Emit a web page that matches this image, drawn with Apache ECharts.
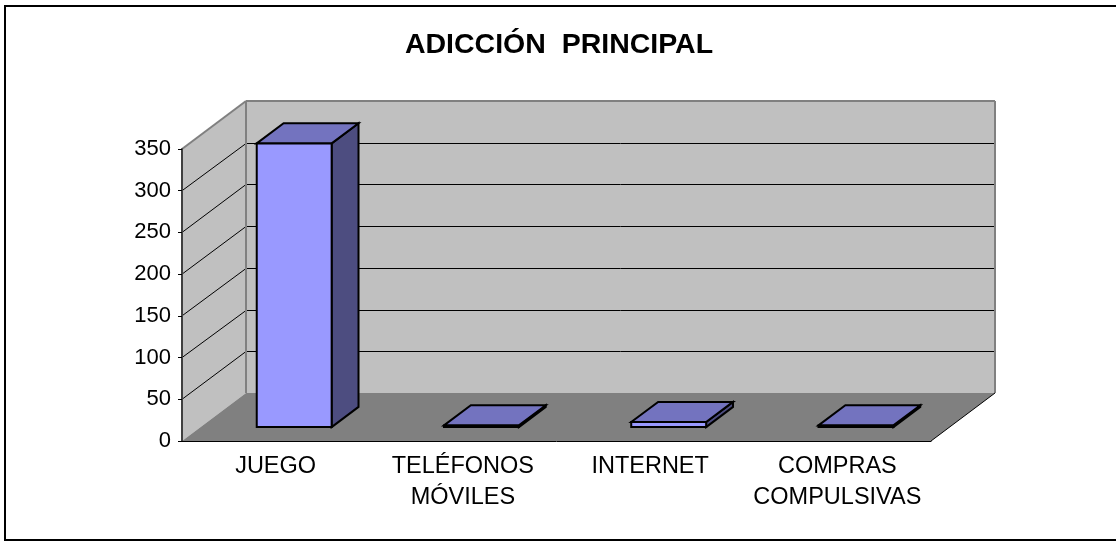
<!DOCTYPE html>
<html>
<head>
<meta charset="utf-8">
<style>
  html, body { margin: 0; padding: 0; background: #fff; overflow: hidden; }
  #chart { width: 1116px; height: 541px; }
</style>
<script src="https://cdn.jsdelivr.net/npm/echarts@6/dist/echarts.min.js"></script>
</head>
<body>
<div id="chart"></div>
<script>
const categories = ['JUEGO', 'TELÉFONOS\nMÓVILES', 'INTERNET', 'COMPRAS\nCOMPULSIVAS'];
const values = [340, 2, 6, 2];
const yTicks = [0, 50, 100, 150, 200, 250, 300, 350];

// fake 3D: how far the back of the floor is shifted from the front axis
const DEPTH_X = 64;
const DEPTH_Y = -48;
const BAR_START = 0.29;  // bar front, as a share of the depth
const BAR_DEPTH = 0.42;
const BAR_WIDTH = 0.4;   // share of a category

const myChart = echarts.init(document.getElementById('chart'));

const poly = (points, fill, stroke, lineWidth) => ({
  type: 'polygon',
  shape: { points },
  style: { fill, stroke: stroke || 'none', lineWidth: lineWidth || 0, lineJoin: 'miter' }
});
const line = (a, b, stroke, lineWidth) => ({
  type: 'line',
  shape: { x1: a[0], y1: a[1], x2: b[0], y2: b[1] },
  style: { stroke, lineWidth }
});
const shift = (p, k) => [p[0] + DEPTH_X * k, p[1] + DEPTH_Y * k];

// walls and floor, drawn once behind everything
const renderWalls = (params, api) => {
  const band = api.size([1, 0])[0];
  const x0 = api.coord([0, 0])[0] - band / 2;
  const x1 = x0 + band * categories.length;
  const yMax = yTicks[yTicks.length - 1];
  const fl = [x0, api.coord([0, 0])[1]];
  const fr = [x1, fl[1]];
  const tl = [x0, api.coord([0, yMax])[1]];
  const children = [
    poly([shift(tl, 1), [shift(fr, 1)[0], shift(tl, 1)[1]], shift(fr, 1), shift(fl, 1)], '#C0C0C0'),
    poly([tl, shift(tl, 1), shift(fl, 1), fl], '#C0C0C0'),
    poly([fl, shift(fl, 1), shift(fr, 1), fr], '#808080')
  ];
  yTicks.slice(1, -1).forEach((t) => {
    const y = api.coord([0, t])[1];
    const backY = Math.round(y + DEPTH_Y) + 0.5;  // keep the back lines crisp
    children.push(line([x0, y], [x0 + DEPTH_X, backY], '#000', 1));
    children.push(line([x0 + DEPTH_X, backY], [x1 + DEPTH_X, backY], '#000', 1));
  });
  children.push(line(tl, shift(tl, 1), '#808080', 2));
  children.push(line(shift(tl, 1), shift(fl, 1), '#808080', 2));
  children.push(line(shift(tl, 1), [shift(fr, 1)[0], shift(tl, 1)[1]], '#808080', 2));
  children.push(line([shift(fr, 1)[0], shift(tl, 1)[1]], shift(fr, 1), '#808080', 2));
  children.push(line(shift(fr, 1), fr, '#000', 1));
  return { type: 'group', children };
};

const renderBar = (params, api) => {
  const band = api.size([1, 0])[0];
  const base = api.coord([api.value(0), 0]);
  const top = api.coord([api.value(0), api.value(1)]);
  const half = band * BAR_WIDTH / 2;
  const fbl = shift([base[0] - half, base[1]], BAR_START);
  const fbr = shift([base[0] + half, base[1]], BAR_START);
  const ftl = shift([base[0] - half, top[1]], BAR_START);
  const ftr = shift([base[0] + half, top[1]], BAR_START);
  const back = (p) => shift(p, BAR_DEPTH);
  return {
    type: 'group',
    children: [
      poly([fbr, back(fbr), back(ftr), ftr], '#4D4D80', '#000', 2),
      poly([ftl, back(ftl), back(ftr), ftr], '#7373BF', '#000', 2),
      poly([ftl, ftr, fbr, fbl], '#9999FF', '#000', 2)
    ]
  };
};

myChart.setOption({
  animation: false,
  backgroundColor: '#fff',
  title: {
    text: 'ADICCIÓN  PRINCIPAL',
    left: 554,
    top: 26,
    textAlign: 'center',
    textStyle: { fontFamily: 'Liberation Sans', fontSize: 28.5, fontWeight: 'bold', color: '#000' }
  },
  graphic: [{
    type: 'rect',
    silent: true,
    shape: { x: 5, y: 6, width: 1200, height: 534 },
    style: { fill: 'none', stroke: '#000', lineWidth: 2 }
  }],
  grid: { left: 182, right: 185, top: 149, bottom: 100 },
  xAxis: {
    type: 'category',
    z: 5,
    data: categories,
    axisLine: { lineStyle: { color: '#000', width: 1 } },
    axisTick: { length: 5, lineStyle: { color: '#000' } },
    axisLabel: {
      color: '#000', fontFamily: 'Liberation Sans', fontSize: 23.5, lineHeight: 31,
      margin: 10, interval: 0
    }
  },
  yAxis: {
    type: 'value',
    z: 5,
    min: 0,
    max: 350,
    interval: 50,
    axisLine: { show: true, lineStyle: { color: '#404040', width: 2 } },
    axisTick: { show: true, length: 4, lineStyle: { color: '#000' } },
    axisLabel: { color: '#000', fontFamily: 'Liberation Sans', fontSize: 22, margin: 11 },
    splitLine: { show: false }
  },
  series: [
    {
      type: 'custom',
      silent: true,
      z: 1,
      data: [[0, 0]],
      encode: { x: 0, y: 1 },
      renderItem: renderWalls
    },
    {
      type: 'custom',
      z: 3,
      data: values.map((v, i) => [i, v]),
      encode: { x: 0, y: 1 },
      renderItem: renderBar
    }
  ]
});
</script>
</body>
</html>
